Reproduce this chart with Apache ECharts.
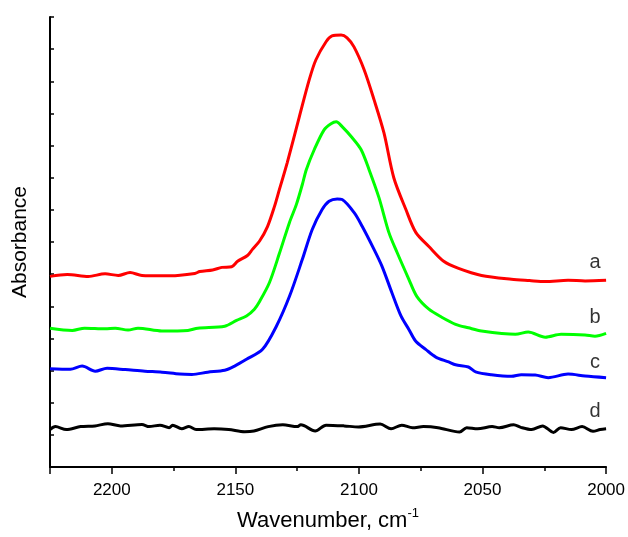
<!DOCTYPE html>
<html>
<head>
<meta charset="utf-8">
<script src="https://cdn.jsdelivr.net/npm/echarts@6/dist/echarts.min.js"></script>
<style>html,body{margin:0;padding:0;background:#fff}#c{width:628px;height:537px}</style>
</head>
<body>
<div id="c"></div>
<script>
// Wavenumber (cm^-1), absorbance (arb. units)
const curveA = [[2225,5.93],[2218,5.99],[2209.5,5.93],[2202.7,6.01],[2197.4,5.96],[2192.6,6.05],[2187.8,5.96],[2179.7,5.95],[2173.3,5.96],[2166.4,6.02],[2164.4,6.08],[2159.2,6.13],[2155.5,6.21],[2151.5,6.23],[2149.1,6.40],[2145.1,6.58],[2143.1,6.77],[2140.2,7.03],[2137.0,7.48],[2134.2,8.10],[2132.2,8.63],[2129.0,9.47],[2124.1,10.90],[2120.1,12.05],[2117.4,12.67],[2113.3,13.23],[2110.9,13.41],[2107.2,13.44],[2104.8,13.35],[2102.0,13.07],[2097.9,12.36],[2093.9,11.43],[2089.9,10.40],[2085.9,9.00],[2081.0,8.01],[2077.0,7.30],[2071.7,6.86],[2065.7,6.40],[2059.7,6.18],[2050.4,5.96],[2038.3,5.84],[2031.0,5.80],[2024.6,5.77],[2015.4,5.81],[2008.5,5.79],[2000,5.81]];
const curveB = [[2225,4.32],[2216,4.25],[2211,4.32],[2202.7,4.30],[2198.6,4.32],[2193.4,4.26],[2189.4,4.32],[2179.7,4.23],[2169.2,4.25],[2165.2,4.32],[2154.3,4.38],[2149.5,4.56],[2145.5,4.70],[2142.3,4.91],[2140.2,5.15],[2136.2,5.74],[2132.2,6.64],[2128.1,7.61],[2125.3,8.17],[2122.9,8.79],[2121.3,9.25],[2118.1,9.87],[2114.1,10.49],[2111.3,10.68],[2109.2,10.74],[2106.8,10.59],[2102.8,10.25],[2099.1,9.87],[2095.9,9.25],[2091.9,8.38],[2087.9,7.30],[2084.6,6.68],[2079.8,5.84],[2076.6,5.31],[2071.7,4.91],[2066.5,4.66],[2060.9,4.44],[2055.7,4.33],[2050.4,4.23],[2036.7,4.13],[2031.5,4.20],[2024.6,4.04],[2018.2,4.13],[2008.5,4.11],[2004.5,4.07],[2000,4.16]];
const curveC = [[2225,3.06],[2216.8,3.04],[2212,3.14],[2206.7,2.98],[2201.9,3.07],[2194.6,3.03],[2186.6,2.98],[2179.7,2.95],[2172.5,2.89],[2167.6,2.88],[2161.2,2.95],[2154.3,3.01],[2150.3,3.14],[2145.5,3.35],[2139.0,3.66],[2133.4,4.38],[2128.1,5.31],[2122.9,6.46],[2118.9,7.39],[2114.9,8.01],[2112.1,8.27],[2108.8,8.34],[2106.8,8.32],[2102.0,7.92],[2098.7,7.49],[2093.9,6.77],[2090.7,6.25],[2086.7,5.43],[2083.0,4.70],[2079.8,4.28],[2077.0,3.91],[2073.0,3.66],[2068.9,3.42],[2063.7,3.27],[2060.9,3.18],[2055.7,3.11],[2052.8,2.96],[2046.4,2.87],[2038.3,2.82],[2034.3,2.87],[2028.7,2.86],[2023.4,2.78],[2015.4,2.89],[2008.5,2.83],[2000,2.78]];
const curveD = [[2225,1.166],[2222.8,1.257],[2218.4,1.166],[2212.6,1.257],[2206.8,1.279],[2201.6,1.347],[2196.5,1.279],[2187.8,1.324],[2184.9,1.257],[2180.5,1.302],[2176.8,1.223],[2175.4,1.302],[2171.7,1.189],[2168.8,1.257],[2165.9,1.166],[2158.6,1.189],[2152.7,1.166],[2146.2,1.098],[2142.5,1.121],[2136.7,1.257],[2130.8,1.313],[2125.0,1.257],[2123.5,1.313],[2117.7,1.121],[2113.3,1.302],[2106.0,1.279],[2100.2,1.245],[2091.4,1.336],[2087.0,1.189],[2082.7,1.302],[2078.3,1.223],[2073.9,1.257],[2068.0,1.223],[2059.3,1.087],[2056.4,1.223],[2052.0,1.189],[2046.1,1.257],[2043.2,1.223],[2037.4,1.313],[2034.5,1.234],[2030.1,1.166],[2025.7,1.279],[2021.3,1.076],[2018.4,1.223],[2014.0,1.166],[2009.7,1.257],[2005.3,1.110],[2002.4,1.166],[2000,1.189]];
const curveNames = ['a','b','c','d'];
const curveColors = ['#ff0000','#00ff00','#0000ff','#000000'];
const labelPoints = [[2004.5,6.36,'a'],[2004.5,4.66,'b'],[2004.5,3.26,'c'],[2004.5,1.74,'d']];
const xTickLabels = [2200,2150,2100,2050,2000];

const FONT = '"Liberation Sans", Arial, sans-serif';
const chart = echarts.init(document.getElementById('c'), null, {renderer:'canvas'});
const curves = [curveA, curveB, curveC, curveD];
const series = curves.map((d,i)=>({
  name: curveNames[i], type:'line', data:d, showSymbol:false, smooth:0.3,
  xAxisIndex:0, yAxisIndex:0, silent:true,
  lineStyle:{color:curveColors[i], width:3}, z:3
}));
series.push({
  type:'scatter', data:labelPoints, symbolSize:0, xAxisIndex:0, yAxisIndex:0, silent:true,
  label:{show:true, position:'inside', formatter:p=>p.data[2], color:'#000', fontSize:20, fontFamily:FONT}
});
chart.setOption({
  animation:false,
  backgroundColor:'#fff',
  grid:{left:50, right:20, top:17, bottom:70},
  xAxis:[{
    type:'value', min:2000, max:2225, interval:25, inverse:true, position:'bottom', offset:0,
    name:'{t|Wavenumber, cm}{s|-1}', nameLocation:'middle', nameGap:40,
    nameTextStyle:{rich:{t:{fontSize:22, fontFamily:FONT, color:'#000', verticalAlign:'bottom'}, s:{fontSize:13, fontFamily:FONT, color:'#000', verticalAlign:'top', padding:[0,0,12,0]}}},
    axisLine:{show:true, onZero:false, lineStyle:{color:'#000', width:2}},
    axisTick:{show:true, inside:false, length:4, lineStyle:{color:'#000', width:1.5}},
    axisLabel:{show:true, margin:15, fontSize:17, fontFamily:FONT, color:'#000',
      formatter:v=> xTickLabels.indexOf(v)>=0 ? String(v) : ''},
    splitLine:{show:false}
  },{
    type:'value', min:2000, max:2225, interval:50, inverse:true, position:'bottom', offset:0,
    axisLine:{show:false}, axisLabel:{show:false}, splitLine:{show:false},
    axisTick:{show:true, inside:false, length:7, lineStyle:{color:'#000', width:1.5}}
  }],
  yAxis:{
    type:'value', min:0, max:14, interval:1,
    name:'Absorbance', nameLocation:'middle', nameGap:19,
    nameTextStyle:{fontSize:21, fontFamily:FONT, color:'#000'},
    axisLine:{show:true, onZero:false, lineStyle:{color:'#000', width:2}},
    axisTick:{show:true, inside:true, length:4, lineStyle:{color:'#000', width:1.5}},
    axisLabel:{show:false}, splitLine:{show:false}
  },
  series:series
});
</script>
</body>
</html>
